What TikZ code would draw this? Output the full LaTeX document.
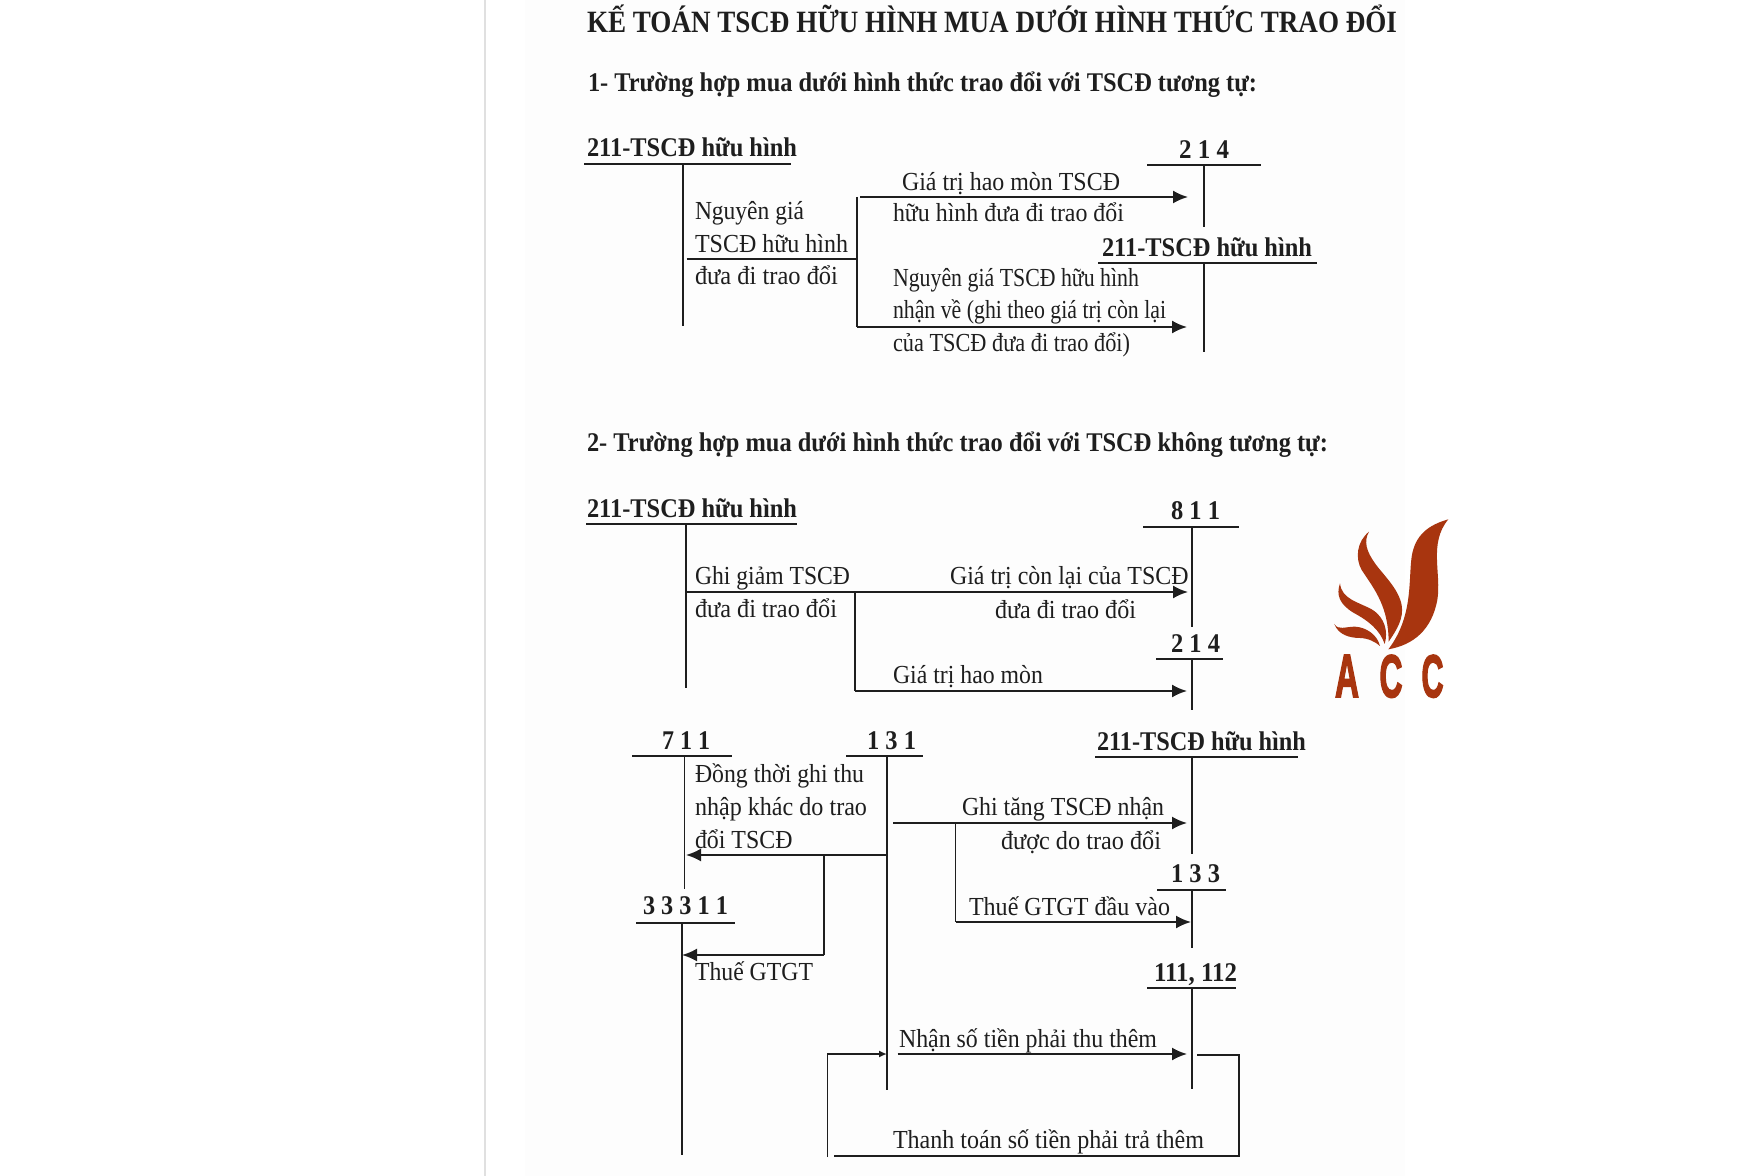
\documentclass[tikz,border=0pt]{standalone}
\usepackage{fontspec}
\setmainfont{Liberation Serif}
\newfontfamily\logofont[BoldFeatures={FakeBold=3}]{Liberation Sans}
\usetikzlibrary{arrows.meta}
\definecolor{ink}{HTML}{1E1E1E}
\definecolor{logored}{HTML}{A8350F}
\definecolor{scanbg}{HTML}{FDFDFD}
\tikzset{
  base/.style={anchor=base west,inner sep=0pt,outer sep=0pt,text=ink},
  lbl/.style={base,font=\fontsize{13}{15}\selectfont},
  acct/.style={base,yshift=-0.4pt,font=\fontsize{13.5}{15}\selectfont\bfseries},
  ttl/.style={base,yshift=-1pt,font=\fontsize{15.5}{18}\selectfont\bfseries},
  logotxt/.style={anchor=base west,inner sep=0pt,outer sep=0pt,text=logored,font=\fontsize{20}{22}\logofont\bfseries},
  rule/.style={draw=ink,line width=1.1pt},
  thinrule/.style={draw=ink,line width=0.8pt},
  stem/.style={draw=ink,line width=0.75pt},
  flow/.style={draw=ink,line width=0.95pt},
  arrow/.style={flow,-{Latex[length=7.5pt,width=6.5pt]}},
  leaf/.style={fill=logored,draw=none},
}
\newcommand{\lab}[6][lbl]{\node[#1] (#2) at (#3,#4) {\resizebox{\dimexpr #5pt/2\relax}{\height}{#6}};}
\newcommand{\pt}[3]{\coordinate (#1) at (#2,#3);}
\begin{document}
\begin{tikzpicture}[x=0.5pt,y=-0.5pt]
\useasboundingbox (0,0) rectangle (1762,1176);
\fill[white] (0,0) rectangle (1762,1176);
\fill[scanbg] (525,0) rectangle (1405,1176);
\draw[black!12,line width=0.6pt] (485,0) -- (485,1176);

% headings
\lab[ttl]{title}{587}{31}{810}{KẾ TOÁN TSCĐ HỮU HÌNH MUA DƯỚI HÌNH THỨC TRAO ĐỔI}
\lab[acct]{subA}{588}{91}{669}{1- Trường hợp mua dưới hình thức trao đổi với TSCĐ tương tự:}
\lab[acct]{subB}{587}{451}{741}{2- Trường hợp mua dưới hình thức trao đổi với TSCĐ không tương tự:}

% ---------- part 1
\lab[acct]{a211}{587}{156}{210}{211-TSCĐ hữu hình}
\pt{a211l}{584}{164}\pt{a211r}{791}{164}\pt{a211t}{683}{164}\pt{a211b}{683}{326}
\draw[rule] (a211l) -- (a211r); \draw[stem] (a211t) -- (a211b);
\lab[acct]{a214}{1179}{158}{50}{2 1 4}
\pt{a214l}{1147}{165}\pt{a214r}{1261}{165}\pt{a214t}{1204}{165}\pt{a214b}{1204}{227}
\draw[thinrule] (a214l) -- (a214r); \draw[stem] (a214t) -- (a214b);
\lab[acct]{b211}{1102}{256}{210}{211-TSCĐ hữu hình}
\pt{b211l}{1098}{263}\pt{b211r}{1317}{263}\pt{b211t}{1204}{263}\pt{b211b}{1204}{352}
\draw[rule] (b211l) -- (b211r); \draw[stem] (b211t) -- (b211b);

\lab{t1}{695}{220}{109}{Nguyên giá}
\lab{t2}{695}{253}{153}{TSCĐ hữu hình}
\lab{t3}{695}{285}{143}{đưa đi trao đổi}
\lab{t4}{902}{191}{218}{Giá trị hao mòn TSCĐ}
\lab{t5}{893}{222}{231}{hữu hình đưa đi trao đổi}
\lab{t6}{893}{287}{246}{Nguyên giá TSCĐ hữu hình}
\lab{t7}{893}{319}{273}{nhận về (ghi theo giá trị còn lại}
\lab{t8}{893}{352}{237}{của TSCĐ đưa đi trao đổi)}

\pt{c1}{686.5}{259}\pt{c2}{857}{259}\pt{c3}{857}{197}\pt{c4}{857}{327}
\pt{c5}{860}{197}\pt{c6}{1188}{197}\pt{c7}{1187}{327}
\draw[flow] (c1) -- (c2);
\draw[flow] (c3) -- (c4);
\draw[arrow] (c5) -- (c6);
\draw[arrow] (c4) -- (c7);

% ---------- part 2, upper
\lab[acct]{d211}{587}{517}{210}{211-TSCĐ hữu hình}
\pt{d211l}{586}{524}\pt{d211r}{797}{524}\pt{d211t}{686}{524}\pt{d211b}{686}{688}
\draw[rule] (d211l) -- (d211r); \draw[stem] (d211t) -- (d211b);
\lab[acct]{d811}{1171}{519}{49}{8 1 1}
\pt{d811l}{1143}{527}\pt{d811r}{1238.5}{527}\pt{d811t}{1192}{527}\pt{d811b}{1192}{627}
\draw[thinrule] (d811l) -- (d811r); \draw[stem] (d811t) -- (d811b);
\lab[acct]{d214}{1171}{652}{49}{2 1 4}
\pt{d214l}{1156}{659}\pt{d214r}{1223}{659}\pt{d214t}{1192}{659}\pt{d214b}{1192}{710}
\draw[thinrule] (d214l) -- (d214r); \draw[stem] (d214t) -- (d214b);

\lab{u1}{695}{584}{155}{Ghi giảm TSCĐ}
\lab{u2}{695}{617}{142}{đưa đi trao đổi}
\lab{u3}{950}{584}{238.5}{Giá trị còn lại của TSCĐ}
\lab{u4}{995}{618}{141}{đưa đi trao đổi}
\lab{u5}{893}{683}{150}{Giá trị hao mòn}

\pt{e1}{686}{592}\pt{e2}{1188}{592}\pt{e3}{855}{592}\pt{e4}{855}{691}\pt{e5}{1187}{691}
\draw[arrow] (e1) -- (e2);
\draw[flow] (e3) -- (e4);
\draw[arrow] (e4) -- (e5);

% ---------- part 2, lower
\lab[acct]{f711}{662}{749}{48}{7 1 1}
\pt{f711l}{632}{756}\pt{f711r}{732}{756}\pt{f711t}{684.5}{756}\pt{f711b}{684.5}{889}
\draw[thinrule] (f711l) -- (f711r); \draw[stem] (f711t) -- (f711b);
\lab[acct]{f131}{867}{749}{49}{1 3 1}
\pt{f131l}{846}{756}\pt{f131r}{923}{756}\pt{f131t}{887}{756}\pt{f131b}{887}{1090}
\draw[thinrule] (f131l) -- (f131r); \draw[stem] (f131t) -- (f131b);
\lab[acct]{f211}{1097}{750}{209}{211-TSCĐ hữu hình}
\pt{f211l}{1095}{757}\pt{f211r}{1298}{757}\pt{f211t}{1192}{757}\pt{f211b}{1192}{854}
\draw[rule] (f211l) -- (f211r); \draw[stem] (f211t) -- (f211b);
\lab[acct]{f133}{1171}{882}{49}{1 3 3}
\pt{f133l}{1157}{890}\pt{f133r}{1226}{890}\pt{f133t}{1192}{890}\pt{f133b}{1192}{948}
\draw[thinrule] (f133l) -- (f133r); \draw[stem] (f133t) -- (f133b);
\lab[acct]{f333}{643}{914}{85}{3 3 3 1 1}
\pt{f333l}{636}{923}\pt{f333r}{734.5}{923}\pt{f333t}{682}{923}\pt{f333b}{682}{1155}
\draw[thinrule] (f333l) -- (f333r); \draw[stem] (f333t) -- (f333b);
\lab[acct]{f111}{1154}{981}{83}{111, 112}
\pt{f111l}{1147}{988}\pt{f111r}{1236}{988}\pt{f111t}{1192}{988}\pt{f111b}{1192}{1089}
\draw[rule] (f111l) -- (f111r); \draw[stem] (f111t) -- (f111b);

\lab{v1}{695}{782}{169}{Đồng thời ghi thu}
\lab{v2}{695}{815}{172}{nhập khác do trao}
\lab{v3}{695}{848}{97.5}{đổi TSCĐ}
\lab{v4}{962}{815}{202}{Ghi tăng TSCĐ nhận}
\lab{v5}{1001}{849}{160}{được do trao đổi}
\lab{v6}{969}{915}{201}{Thuế GTGT đầu vào}
\lab{v7}{695}{980}{118}{Thuế GTGT}
\lab{v8}{899}{1047}{258}{Nhận số tiền phải thu thêm}
\lab{v9}{893}{1148}{311}{Thanh toán số tiền phải trả thêm}

\pt{g1}{893}{823}\pt{g2}{1187}{823}\pt{g3}{955.5}{823}\pt{g4}{955.5}{922}\pt{g5}{1191}{922}
\draw[arrow] (g1) -- (g2);
\draw[flow] (g3) -- (g4);
\draw[arrow] (g4) -- (g5);
\pt{h1}{887}{855}\pt{h2}{686}{855}\pt{h3}{824}{855}\pt{h4}{824}{955}\pt{h5}{682}{955}
\draw[arrow] (h1) -- (h2);
\draw[flow] (h3) -- (h4);
\draw[arrow] (h4) -- (h5);
\pt{k1}{897.5}{1054}\pt{k2}{1187}{1054}
\draw[arrow] (k1) -- (k2);
\pt{m1}{827.5}{1157}\pt{m2}{827.5}{1054}\pt{m3}{887}{1054}
\draw[flow,-{Latex[length=4pt,width=3.5pt]}] (m1) -- (m2) -- (m3);
\pt{n1}{1197}{1055}\pt{n2}{1239}{1055}\pt{n3}{1239}{1156}\pt{n4}{834}{1156}
\draw[flow] (n1) -- (n2) -- (n3) -- (n4);

% ---------- logo
\begin{scope}[shift={(1300,500)},x=0.5pt/3,y=-0.5pt/3]
\fill[leaf] (445,58) .. controls (385,75) and (345,105) .. (335,170) .. controls (325,240) and (340,350) .. (265,448)
  .. controls (340,435) and (395,390) .. (412,300) .. controls (425,220) and (385,130) .. (445,58) -- cycle;
\fill[leaf] (207,95) .. controls (170,125) and (165,175) .. (185,210) .. controls (225,270) and (265,320) .. (266,425)
  .. controls (290,390) and (312,355) .. (305,315) .. controls (295,265) and (250,225) .. (225,190) .. controls (200,155) and (190,125) .. (207,95) -- cycle;
\fill[leaf] (120,250) .. controls (108,285) and (118,312) .. (160,338) .. controls (205,362) and (240,390) .. (254,432)
  .. controls (265,395) and (255,352) .. (215,328) .. controls (175,306) and (125,298) .. (120,250) -- cycle;
\fill[leaf] (103,372) .. controls (115,405) and (150,414) .. (180,414) .. controls (205,415) and (225,425) .. (240,438)
  .. controls (232,405) and (200,382) .. (165,380) .. controls (135,380) and (115,392) .. (103,372) -- cycle;
\end{scope}
\node[logotxt] (logoA) at (1335,697) {\resizebox{12pt}{21pt}{A}};
\node[logotxt] (logoB) at (1379.5,697) {\resizebox{11.5pt}{21pt}{C}};
\node[logotxt] (logoC) at (1421.5,697) {\resizebox{11pt}{21pt}{C}};
\end{tikzpicture}
\end{document}
